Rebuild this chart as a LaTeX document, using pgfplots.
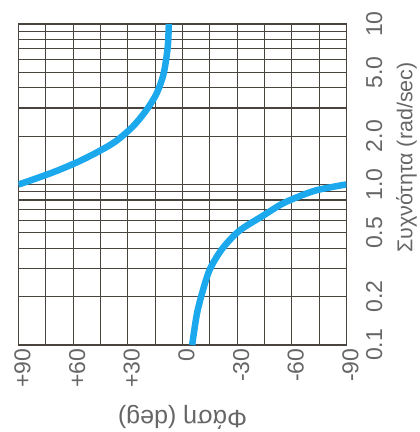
\documentclass[border=0pt]{standalone}
\usepackage{fontspec}
\setmainfont{Liberation Sans}
\usepackage{pgfplots}
\pgfplotsset{compat=1.18}
\definecolor{gridc}{HTML}{4A443E}
\definecolor{curvec}{HTML}{1BA8EC}
\definecolor{txt}{HTML}{666666}
\begin{document}
\begin{tikzpicture}
\begin{axis}[name=ax, scale only axis, width=328pt, height=321pt,
  xmin=-90, xmax=90, x dir=reverse, ymode=log, ymin=0.1, ymax=10,
  xtick={-90,-60,-30,0,30,60,90},
  xticklabels={-90,-60,-30,0,+30,+60,+90},
  minor xtick={-75,-45,-15,15,45,75},
  ytick={0.1,0.2,0.5,1,2,5,10},
  yticklabels={0.1,0.2,0.5,1.0,2.0,5.0,10},
  minor ytick={0.3,0.4,0.6,0.7,0.8,0.9,3,4,6,7,8,9},
  grid=both,
  grid style={gridc, line width=1.2pt},
  minor grid style={gridc, line width=1.2pt},
  axis line style={gridc, line width=1.4pt},
  major tick length=0pt, minor tick length=0pt,
  yticklabel pos=right,
  xticklabel style={xshift=4pt, rotate=90, anchor=east, font=\fontsize{23}{25}\selectfont, text=txt},
  yticklabel style={xshift=16pt, rotate=90, anchor=north, font=\fontsize{23}{25}\selectfont, text=txt},
  every axis x label/.style={at={(axis description cs:0.5,0)}, yshift=-72pt, anchor=center, rotate=180, font=\fontsize{25}{27}\selectfont, text=txt},
  every axis y label/.style={at={(axis description cs:1,0.584)}, xshift=60pt, anchor=center, rotate=90, font=\fontsize{21.5}{24}\selectfont, text=txt},
  xlabel={Φάση (deg)},
  ylabel={Συχνότητα (rad/sec)},
]
\addplot[curvec, line width=6.5pt, smooth] coordinates {
(90,1.0) (82,1.074) (69.5,1.21) (56.7,1.395) (45.9,1.61) (36.6,1.86)
(27.2,2.30) (19.7,2.92) (14.1,3.71) (10.3,4.94) (8.1,7.2) (7.5,10)
};
\addplot[curvec, line width=6.5pt, smooth] coordinates {
(-5.3,0.1) (-7.9,0.156) (-11.1,0.217) (-15,0.296) (-21.6,0.395) (-31,0.513)
(-43.9,0.636) (-55.9,0.77) (-71.8,0.909) (-85.3,0.98) (-90,1.0)
};
\end{axis}
\pgfresetboundingbox
\path ([xshift=-18.5pt,yshift=-87pt]ax.south west) rectangle ([xshift=73.5pt,yshift=24pt]ax.north east);
\end{tikzpicture}
\end{document}
